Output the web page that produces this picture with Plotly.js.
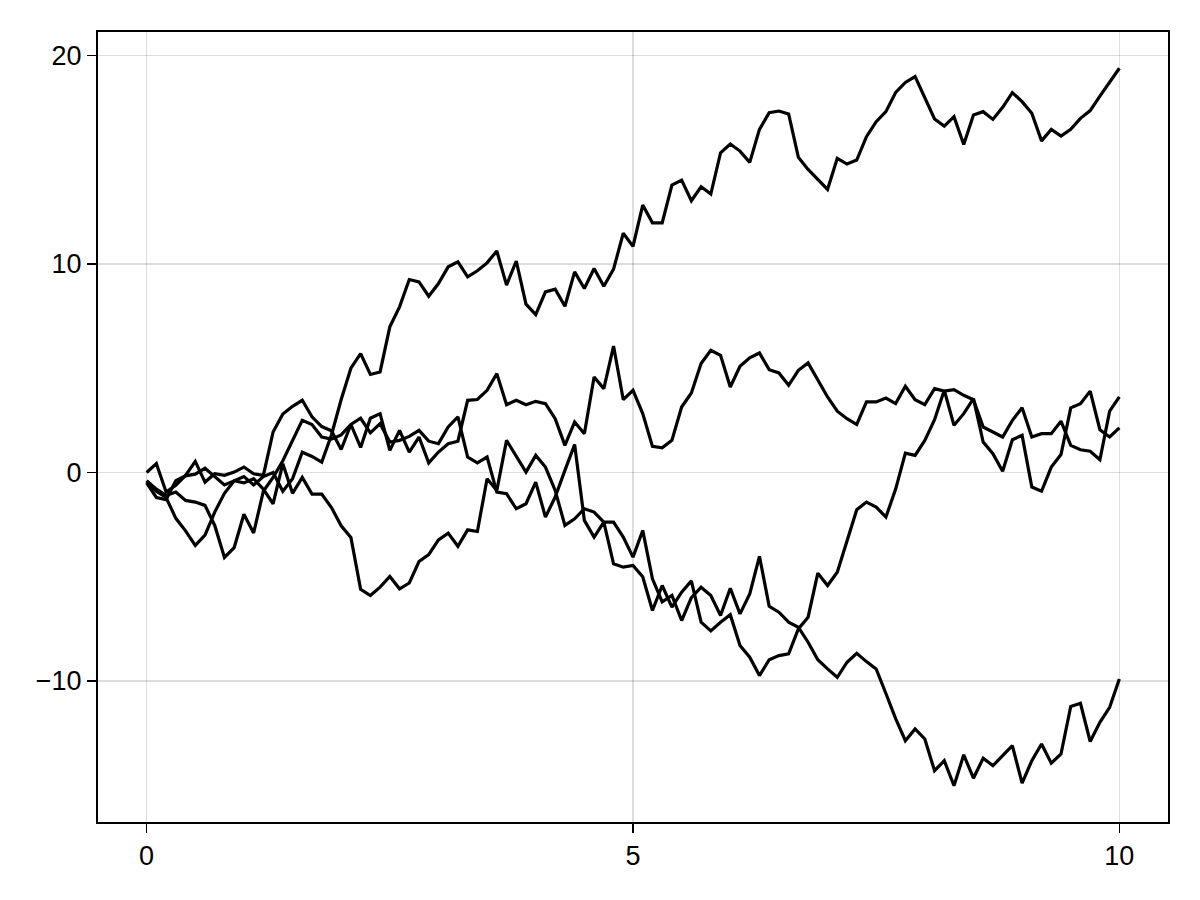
<!DOCTYPE html>
<html>
<head>
<meta charset="utf-8">
<script src="https://cdn.plot.ly/plotly-3.0.1.min.js"></script>
<style>html,body{margin:0;padding:0;background:#fff;}#plot{width:1200px;height:900px;}</style>
</head>
<body>
<div id="plot"></div>
<script>
// time steps 0, 0.1, ..., 10
const tValues = Array.from({length: 101}, (_, i) => i / 10);

const walkA = [-0.4, -0.9, -1.2, -2.2, -2.8, -3.5, -3.0, -1.9, -1.0, -0.4,
  -0.2, -0.6, -0.2, 0.0, -0.9, -0.3, 0.97, 0.77, 0.5, 1.8,
  3.5, 5.0, 5.7, 4.7, 4.82, 6.98, 7.94, 9.25, 9.14, 8.45,
  9.06, 9.86, 10.1, 9.38, 9.67, 10.05, 10.62, 8.98, 10.14, 8.07,
  7.57, 8.66, 8.79, 7.97, 9.62, 8.82, 9.78, 8.93, 9.75, 11.47,
  10.84, 12.82, 11.97, 11.97, 13.78, 14.02, 13.03, 13.7, 13.35, 15.33,
  15.75, 15.41, 14.87, 16.45, 17.25, 17.33, 17.19, 15.11, 14.53, 14.05,
  13.57, 15.06, 14.79, 14.98, 16.1, 16.82, 17.3, 18.22, 18.7, 18.98,
  17.94, 16.95, 16.61, 17.06, 15.73, 17.14, 17.3, 16.93, 17.51, 18.21,
  17.78, 17.22, 15.9, 16.45, 16.13, 16.45, 16.98, 17.35, 18.05, 18.74, 19.38];

const walkB = [-0.4, -0.8, -1.1, -0.94, -1.34, -1.42, -1.58, -2.54, -4.07, -3.6,
  -2.0, -2.9, -0.9, -0.24, 0.56, 1.5, 2.5, 2.3, 1.7, 1.6,
  1.8, 2.3, 2.6, 1.9, 2.34, 1.46, 1.54, 1.73, 2.02, 1.5,
  1.38, 2.18, 2.66, 0.74, 0.46, 0.74, -0.94, -1.02, -1.74, -1.5,
  -0.46, -2.14, -1.18, 0.1, 1.34, -2.3, -3.1, -2.38, -4.38, -4.54,
  -4.46, -5.0, -6.62, -5.42, -6.46, -5.74, -5.2, -7.18, -7.6, -7.18,
  -6.82, -8.3, -8.86, -9.74, -8.98, -8.78, -8.7, -7.5, -6.94, -4.83,
  -5.42, -4.78, -3.26, -1.79, -1.42, -1.66, -2.14, -0.8, 0.93, 0.82,
  1.54, 2.53, 3.94, 2.26, 2.82, 3.54, 1.46, 0.9, 0.06, 1.57,
  1.78, -0.7, -0.9, 0.26, 0.86, 3.1, 3.3, 3.9, 2.05, 1.7, 2.14];

const walkC = [0.0, 0.43, -0.94, -0.62, -0.14, 0.53, -0.46, -0.06, -0.14, 0.02,
  0.26, -0.06, -0.14, 1.94, 2.8, 3.17, 3.46, 2.67, 2.2, 2.0,
  1.1, 2.3, 1.2, 2.6, 2.82, 1.06, 2.02, 0.98, 1.7, 0.46,
  0.98, 1.38, 1.5, 3.46, 3.5, 3.94, 4.74, 3.25, 3.46, 3.25,
  3.41, 3.3, 2.58, 1.3, 2.42, 1.86, 4.58, 4.02, 6.06, 3.49,
  3.94, 2.82, 1.25, 1.18, 1.54, 3.14, 3.81, 5.22, 5.86, 5.62,
  4.1, 5.09, 5.5, 5.73, 4.93, 4.77, 4.18, 4.9, 5.25, 4.42,
  3.62, 2.94, 2.58, 2.3, 3.38, 3.38, 3.57, 3.3, 4.13, 3.49,
  3.25, 4.02, 3.9, 3.97, 3.7, 3.49, 2.18, 1.94, 1.7, 2.5,
  3.1, 1.7, 1.86, 1.86, 2.46, 1.3, 1.09, 1.02, 0.61, 2.94, 3.62];

const walkD = [-0.5, -1.2, -1.3, -0.4, -0.16, -0.08, 0.2, -0.2, -0.6, -0.4,
  -0.5, -0.3, -0.8, -1.5, 0.42, -1.0, -0.24, -1.04, -1.04, -1.68,
  -2.56, -3.12, -5.6, -5.9, -5.5, -4.99, -5.58, -5.3, -4.27, -3.94,
  -3.23, -2.91, -3.54, -2.75, -2.83, -0.3, -0.86, 1.54, 0.77, 0.02,
  0.82, 0.26, -0.86, -2.54, -2.22, -1.74, -1.9, -2.38, -2.38, -3.1,
  -4.06, -2.78, -5.1, -6.2, -5.9, -7.1, -6.0, -5.5, -5.9, -6.86,
  -5.55, -6.78, -5.82, -4.02, -6.42, -6.7, -7.18, -7.42, -8.14, -8.98,
  -9.42, -9.82, -9.1, -8.67, -9.07, -9.42, -10.6, -11.8, -12.86, -12.3,
  -12.78, -14.3, -13.82, -15.02, -13.54, -14.66, -13.7, -14.06, -13.58, -13.1,
  -14.9, -13.82, -13.02, -13.94, -13.5, -11.22, -11.07, -12.9, -11.98, -11.26, -9.9];

const xTicks = [0, 5, 10];
const yTicks = [-10, 0, 10, 20];

const walks = [walkA, walkB, walkC, walkD];
const traces = walks.map(w => ({
  x: tValues, y: w, type: 'scatter', mode: 'lines',
  line: {color: '#000000', width: 3.2}, hoverinfo: 'skip', showlegend: false
}));

const axisCommon = {
  showgrid: true, gridcolor: 'rgba(0,0,0,0.13)', gridwidth: 1.5,
  zeroline: false, showline: true, mirror: true, linecolor: '#000', linewidth: 2,
  ticks: 'outside', ticklen: 9, tickwidth: 1.5, tickcolor: '#000',
  tickfont: {family: 'Liberation Sans, Arial, sans-serif', size: 27, color: '#000'}
};

const layout = {
  width: 1200, height: 900,
  margin: {l: 98, r: 32, t: 32, b: 78},
  paper_bgcolor: '#fff', plot_bgcolor: '#fff',
  showlegend: false,
  xaxis: Object.assign({}, axisCommon, {range: [-0.5, 10.5], tickvals: xTicks, ticktext: xTicks.map(String)}),
  yaxis: Object.assign({}, axisCommon, {range: [-16.76, 21.12], tickvals: yTicks})
};

Plotly.newPlot('plot', traces, layout, {staticPlot: true, displayModeBar: false});
</script>
</body>
</html>
